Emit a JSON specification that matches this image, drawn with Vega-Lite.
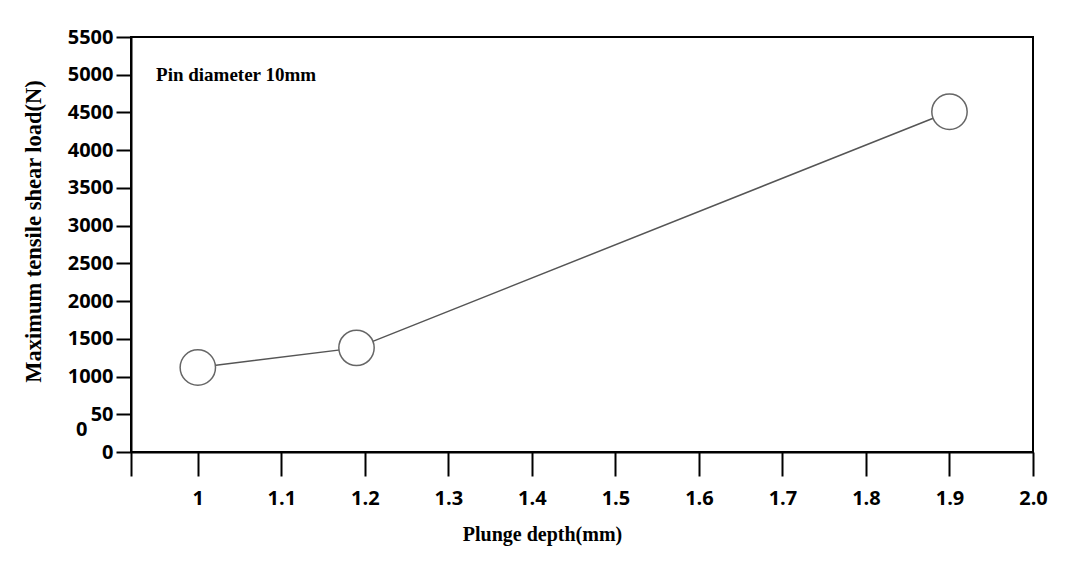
{
  "$schema": "https://vega.github.io/schema/vega-lite/v6.json",
  "autosize": "none",
  "width": 902,
  "height": 415,
  "padding": {"left": 131, "top": 37, "right": 44, "bottom": 111},
  "background": "white",
  "config": {
    "view": {"stroke": "black", "strokeWidth": 2},
    "axis": {"grid": false, "domainColor": "black", "domainWidth": 2, "tickColor": "black", "tickWidth": 2,
      "labelFont": "Open Sans", "labelFontWeight": "bold", "labelFontSize": 20, "labelColor": "black",
      "labelOverlap": false, "labelFlush": false,
      "titleFont": "Liberation Serif", "titleFontWeight": "bold", "titleFontSize": 20, "titleColor": "black"}
  },
  "datasets": {
    "points": [
      {"depth": 1.0, "load": 1120},
      {"depth": 1.19, "load": 1380},
      {"depth": 1.9, "load": 4510}
    ],
    "notes": [
      {"label": "Pin diameter 10mm", "kind": "note", "depth": 0.95, "load": 5000},
      {"label": "0", "kind": "stray", "depth": 0.861, "load": 292}
    ]
  },
  "encoding": {
    "x": {"field": "depth", "type": "quantitative", "scale": {"domain": [0.92, 2.0], "nice": false, "zero": false},
      "axis": {"title": "Plunge depth(mm)", "values": [0.92, 1, 1.1, 1.2, 1.3, 1.4, 1.5, 1.6, 1.7, 1.8, 1.9, 2.0],
        "labelExpr": "datum.value < 0.95 ? '' : (datum.value == 2 ? '2.0' : format(datum.value, ''))",
        "tickSize": 24, "labelPadding": 12, "titleX": 411, "titleY": 72, "titleAnchor": "middle"}},
    "y": {"field": "load", "type": "quantitative", "scale": {"domain": [0, 5500], "nice": false},
      "axis": {"title": "Maximum tensile shear load(N)", "titleFontSize": 22.5, "values": [0, 500, 1000, 1500, 2000, 2500, 3000, 3500, 4000, 4500, 5000, 5500],
        "labelExpr": "datum.value == 500 ? '50\u00a0\u00a0' : format(datum.value, '')",
        "tickSize": 15, "labelPadding": 3, "titleX": -86, "titleY": 194, "titleAnchor": "middle"}}
  },
  "layer": [
    {
      "data": {"name": "points"},
      "mark": {"type": "line", "color": "#555555", "strokeWidth": 1.5}
    },
    {
      "data": {"name": "points"},
      "mark": {"type": "point", "shape": "circle", "filled": true, "fill": "white", "stroke": "#666666", "strokeWidth": 1.5, "size": 1250, "opacity": 1}
    },
    {
      "data": {"name": "notes"},
      "transform": [{"filter": "datum.kind == 'note'"}],
      "mark": {"type": "text", "font": "Liberation Serif", "fontWeight": "bold", "fontSize": 19, "align": "left", "baseline": "middle", "color": "black"},
      "encoding": {
        "text": {"field": "label"}
      }
    },
    {
      "data": {"name": "notes"},
      "transform": [{"filter": "datum.kind == 'stray'"}],
      "mark": {"type": "text", "font": "Open Sans", "fontWeight": "bold", "fontSize": 20, "align": "center", "baseline": "middle", "color": "black", "clip": false},
      "encoding": {
        "text": {"field": "label"}
      }
    }
  ]
}
